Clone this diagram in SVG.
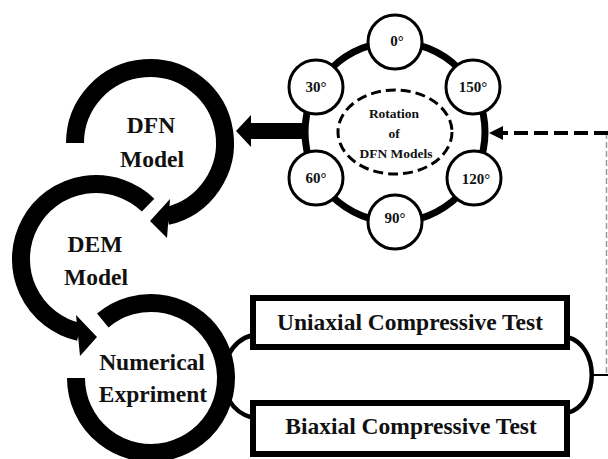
<svg xmlns="http://www.w3.org/2000/svg" width="608" height="459" viewBox="0 0 608 459">
<style>
text{font-family:"Liberation Serif","Times New Roman",serif;font-weight:bold;fill:#111;text-anchor:middle}
.big{font-size:23.5px}
.box{font-size:23.5px}
.deg{font-size:15px}
.rot{font-size:13.5px}
.ring{fill:none;stroke:#000;stroke-width:18;stroke-linecap:butt}
.small{fill:#fff;stroke:#000;stroke-width:3}
.rect{fill:#fff;stroke:#000;stroke-width:6}
.con{fill:none;stroke:#000;stroke-width:4.5}
</style>
<rect width="608" height="459" fill="#fff"/>
<g id="connectors">
  <!-- DFN loop arrow -->
  <path class="ring" d="M 75 143 A 75 75 0 1 1 166.9 216.1"/>
  <polygon points="170,199 167,238 150,221"/>
  <!-- DEM loop arrow -->
  <path class="ring" d="M 148.1 205.1 A 75 75 0 1 0 79.1 332.1"/>
  <polygon points="76,315 80,356 97,337"/>
  <!-- Numerical loop -->
  <path class="ring" d="M 102.8 320.5 A 75 75 0 1 1 76 378"/>
  <!-- thick arrow from rotation wheel -->
  <rect x="249" y="123" width="54" height="16" fill="#000"/>
  <polygon points="236,131 251,115 251,147" fill="#000"/>
  <!-- connectors to tests -->
  <path class="con" d="M 229 354 Q 237 339 253 335"/>
  <path class="con" d="M 229 400 Q 237 414 253 418"/>
  <path class="con" d="M 567 337 C 600 345 600 405 567 413"/>
  <line x1="591" y1="375" x2="608" y2="375" stroke="#000" stroke-width="2"/>
  <line x1="606.5" y1="133" x2="606.5" y2="375" stroke="#999" stroke-width="1.5" stroke-dasharray="6 3"/>
  <line x1="608" y1="133" x2="500" y2="133" stroke="#000" stroke-width="4" stroke-dasharray="14 6"/>
  <polygon points="489,133 503,126 503,140" fill="#000"/>
</g>
<g id="rotation">
  <circle cx="395" cy="132" r="90" fill="none" stroke="#000" stroke-width="7"/>
  <ellipse cx="395" cy="132" rx="57" ry="42" fill="none" stroke="#000" stroke-width="3" stroke-dasharray="10 5"/>
  <text class="rot" x="394" y="118">Rotation</text>
  <text class="rot" x="394" y="138">of</text>
  <text class="rot" x="396" y="158">DFN Models</text>
</g>
<g id="deg0"><circle class="small" cx="395" cy="42" r="27"/><text class="deg" x="397" y="46">0°</text></g>
<g id="deg150"><circle class="small" cx="473" cy="87" r="27"/><text class="deg" x="473" y="92">150°</text></g>
<g id="deg120"><circle class="small" cx="474" cy="178" r="27"/><text class="deg" x="476" y="184">120°</text></g>
<g id="deg90"><circle class="small" cx="395" cy="222" r="27"/><text class="deg" x="395" y="223">90°</text></g>
<g id="deg60"><circle class="small" cx="316" cy="178" r="27"/><text class="deg" x="316" y="183">60°</text></g>
<g id="deg30"><circle class="small" cx="316" cy="87" r="27"/><text class="deg" x="316" y="92">30°</text></g>
<g id="dfn"><text class="big" x="151" y="133">DFN</text><text class="big" x="152" y="167">Model</text></g>
<g id="dem"><text class="big" x="95" y="252">DEM</text><text class="big" x="96" y="285">Model</text></g>
<g id="numerical"><text class="big" x="152" y="370">Numerical</text><text class="big" x="153" y="402">Expriment</text></g>
<g id="uniaxial"><rect class="rect" x="253" y="298" width="314" height="49"/><text class="box" x="410" y="330">Uniaxial Compressive Test</text></g>
<g id="biaxial"><rect class="rect" x="253" y="403" width="314" height="51"/><text class="box" x="411" y="434">Biaxial Compressive Test</text></g>
</svg>
